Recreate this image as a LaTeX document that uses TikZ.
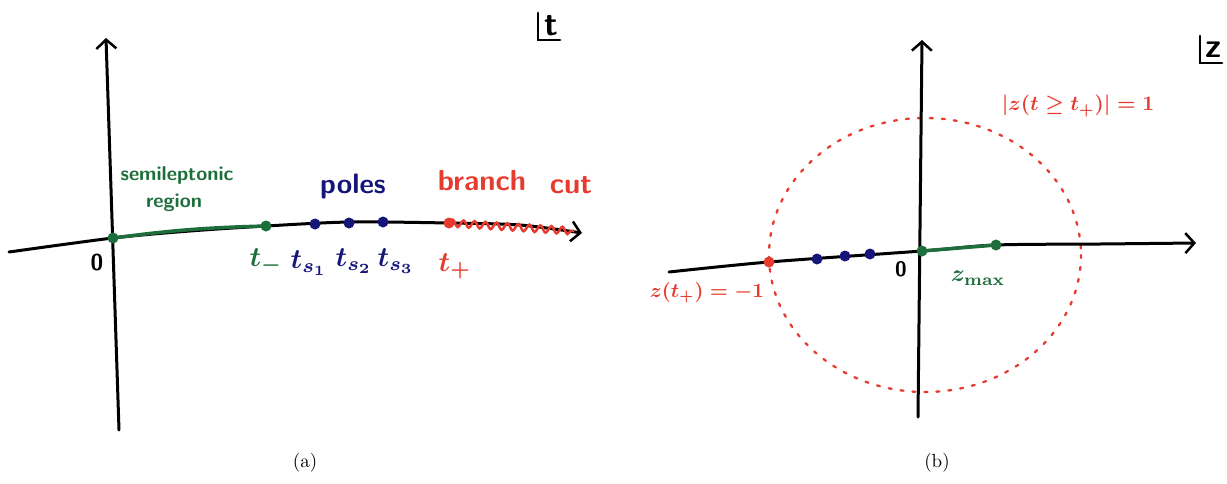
\documentclass[tikz,border=0pt]{standalone}
\usepackage{amssymb}
\usetikzlibrary{arrows.meta,decorations.pathmorphing}
\definecolor{gr}{HTML}{1E6E3C}
\definecolor{nv}{HTML}{16167A}
\definecolor{rd}{HTML}{E63B2E}
\tikzset{
  axis/.style={line width=3pt,black,line cap=round},
  tip/.style={-{Straight Barb[length=9pt,width=20pt,line width=2.5pt]}},
  dotn/.style={circle,inner sep=0pt,minimum size=11pt},
  gdot/.style={dotn,fill=gr},
  bdot/.style={dotn,fill=nv},
  rdot/.style={dotn,fill=rd},
  lbl/.style={inner sep=0pt,font=\boldmath,scale=2.8},
  wrd/.style={inner sep=0pt,font=\sffamily\bfseries,scale=2.0},
  big/.style={inner sep=0pt,font=\sffamily\bfseries,scale=2.9},
  captxt/.style={inner sep=0pt,scale=1.9},
  plane/.style={inner sep=0pt,font=\sffamily\bfseries,scale=3.4},
}
\begin{document}
\begin{tikzpicture}[x=1pt,y=-1pt]
\useasboundingbox (0,0) rectangle (1227,483);
% ---------- panel (a) ----------
\coordinate (aL) at (9,252);
\coordinate (aO) at (113,238);
\coordinate (aM) at (266,226);
\coordinate (aP) at (449,223);
\coordinate (aR) at (582,233);
\coordinate (aB) at (119,430);
\coordinate (aT) at (106,38);
\draw[axis,tip] (aB) -- (aT);
\draw[axis,tip] plot[smooth] coordinates {(aL) (aO) (190,231) (aM) (350,222) (aP) (520,225) (aR)};
\draw[gr,line width=3.5pt] (aO) to[bend left=3] (aM);
\draw[rd,line width=2.5pt,decorate,decoration={snake,amplitude=3.5pt,segment length=11pt}] (aP) -- (574,231);
\node[gdot] (O1) at (aO) {};
\node[gdot] (tm) at (aM) {};
\node[bdot] (s1) at (315,224) {};
\node[bdot] (s2) at (349,223) {};
\node[bdot] (s3) at (383,222) {};
\node[rdot] (tp) at (aP) {};
\node[inner sep=0pt,font=\sffamily\bfseries,scale=2.3] (z1) at (97,263) {0};
\node[lbl,text=gr] (ltm) at (266,261) {$t_-$};
\node[lbl,text=nv] (ls1) at (309,263) {$t_{s_1}$};
\node[lbl,text=nv] (ls2) at (354,261) {$t_{s_2}$};
\node[lbl,text=nv] (ls3) at (396,261) {$t_{s_3}$};
\node[lbl,text=rd] (ltp) at (455,266) {$t_+$};
\node[wrd,text=gr] (semi) at (177,175) {semileptonic};
\node[wrd,text=gr] (reg) at (174,203) {region};
\node[big,text=nv,scale=0.97] (pol) at (353,186) {poles};
\node[big,text=rd] (br) at (482,181) {branch};
\node[big,text=rd] (cut) at (571,185) {cut};
\node[plane] (pt) at (551,26) {t};
\draw[line width=2.8pt,line cap=round] (538,13) -- (538,40) -- (560,40);
\node[captxt] (ca) at (305,463) {(a)};
% ---------- panel (b) ----------
\coordinate (bL) at (669,272);
\coordinate (bO) at (922,251);
\coordinate (bX) at (996,245);
\coordinate (bR) at (1196,243);
\coordinate (bB) at (918,417);
\coordinate (bT) at (922,40);
\draw[rd,line width=2.3pt,line cap=round,dash pattern=on 3pt off 9pt] (925,255) ellipse [x radius=156,y radius=137];
\draw[axis,tip] (bB) -- (bT);
\draw[axis,tip] plot[smooth] coordinates {(bL) (769,262) (bO) (bX) (1100,244) (bR)};
\draw[gr,line width=3.5pt] (bO) -- (bX);
\node[rdot] (zp) at (769,262) {};
\node[bdot] (b1) at (817,259) {};
\node[bdot] (b2) at (845,256) {};
\node[bdot] (b3) at (870,254) {};
\node[gdot] (O2) at (bO) {};
\node[gdot] (zm) at (bX) {};
\node[inner sep=0pt,font=\sffamily\bfseries,scale=2.1] (z2) at (901,269) {0};
\node[lbl,text=gr,scale=0.85] (lzm) at (978,278) {$z_{\mathrm{max}}$};
\node[lbl,text=rd,scale=0.72] (lzp) at (707,293) {$z(t_+)=-1$};
\node[lbl,text=rd,scale=0.74] (lcirc) at (1078,106) {$|z(t\geq t_+)|=1$};
\node[plane] (pz) at (1214,50) {z};
\draw[line width=2.8pt,line cap=round] (1200,36) -- (1200,63) -- (1222,63);
\node[captxt] (cb) at (937,463) {(b)};
\end{tikzpicture}
\end{document}
